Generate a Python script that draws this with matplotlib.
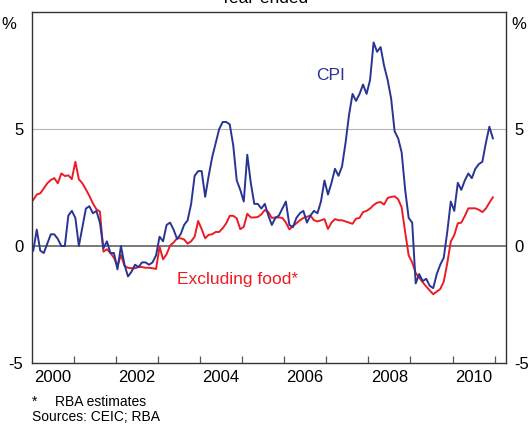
import numpy as np
import matplotlib
matplotlib.use("Agg")
import matplotlib.pyplot as plt

plt.rcParams["font.family"] = ["Liberation Sans", "DejaVu Sans"]

# Year-ended inflation, monthly Jan 2000 .. Dec 2010 (%)
cpi = [
    -0.2, 0.7, -0.2, -0.3, 0.1, 0.5, 0.5, 0.3, 0.0, 0.0, 1.3, 1.5,      # 2000
    1.2, 0.0, 0.8, 1.6, 1.7, 1.4, 1.5, 1.0, -0.1, 0.2, -0.3, -0.3,      # 2001
    -1.0, 0.0, -0.8, -1.3, -1.1, -0.8, -0.9, -0.7, -0.7, -0.8, -0.7, -0.4,  # 2002
    0.4, 0.2, 0.9, 1.0, 0.7, 0.3, 0.5, 0.9, 1.1, 1.8, 3.0, 3.2,         # 2003
    3.2, 2.1, 3.0, 3.8, 4.4, 5.0, 5.3, 5.3, 5.2, 4.3, 2.8, 2.4,         # 2004
    1.9, 3.9, 2.7, 1.8, 1.8, 1.6, 1.8, 1.3, 0.9, 1.2, 1.3, 1.6,         # 2005
    1.9, 0.9, 0.8, 1.2, 1.4, 1.5, 1.0, 1.3, 1.5, 1.4, 1.9, 2.8,         # 2006
    2.2, 2.7, 3.3, 3.0, 3.4, 4.4, 5.6, 6.5, 6.2, 6.5, 6.9, 6.5,         # 2007
    7.1, 8.7, 8.3, 8.5, 7.7, 7.1, 6.3, 4.9, 4.6, 4.0, 2.4, 1.2,         # 2008
    1.0, -1.6, -1.2, -1.5, -1.4, -1.7, -1.8, -1.2, -0.8, -0.5, 0.6, 1.9,  # 2009
    1.5, 2.7, 2.4, 2.8, 3.1, 2.9, 3.3, 3.5, 3.6, 4.4, 5.1, 4.6,         # 2010
]
ex_food = [
    1.97, 2.2, 2.25, 2.46, 2.68, 2.82, 2.9, 2.68, 3.1, 2.99, 3.02, 2.86,
    3.6, 2.85, 2.68, 2.42, 2.14, 1.82, 1.57, 1.47, -0.24, -0.14, -0.3, -0.5,
    -0.85, -0.38, -0.85, -0.93, -0.95, -0.95, -0.9, -0.9, -0.93, -0.93, -0.95, -0.98,
    -0.03, -0.57, -0.35, 0.02, 0.15, 0.33, 0.33, 0.28, 0.1, 0.2, 0.4, 1.07,
    0.72, 0.33, 0.48, 0.5, 0.6, 0.6, 0.76, 0.97, 1.29, 1.29, 1.18, 0.72,
    0.82, 1.38, 1.22, 1.22, 1.24, 1.35, 1.54, 1.45, 1.2, 1.22, 1.22, 1.2,
    1.0, 0.71, 0.85, 0.97, 1.1, 1.2, 1.25, 1.3, 1.1, 1.05, 1.1, 1.15,
    0.73, 1.0, 1.15, 1.1, 1.1, 1.05, 1.0, 0.95, 1.17, 1.2, 1.45, 1.5,
    1.6, 1.75, 1.85, 1.88, 1.77, 2.05, 2.1, 2.12, 2.0, 1.65, 0.6, -0.4,
    -0.7, -1.15, -1.35, -1.55, -1.73, -1.9, -2.06, -1.95, -1.84, -1.52, -0.74, 0.19,
    0.47, 0.97, 1.0, 1.28, 1.61, 1.61, 1.61, 1.55, 1.45, 1.6, 1.85, 2.08,
]
start_year = 2000
year_labels = ["2000", "2002", "2004", "2006", "2008", "2010"]
y_ticks = [-5, 0, 5]

BLUE = "#283593"
RED = "#ed1c24"

# mid-month positions
t = start_year + (np.arange(len(cpi)) + 0.5) / 12.0

W, H = 528, 424
fig = plt.figure(figsize=(W / 100, H / 100), dpi=100)
ax = fig.add_axes([31.5 / W, 1 - 363 / H, (506 - 31.5) / W, (363 - 12) / H])

ax.axhline(5, color="#b4b4b4", lw=0.8, zorder=1)
ax.axhline(0, color="#555555", lw=1.1, zorder=1)
ax.plot(t, cpi, color=BLUE, lw=1.4, zorder=3)
ax.plot(t, ex_food, color=RED, lw=1.4, zorder=2)

ax.set_xlim(2000, 2011.27)
ax.set_ylim(-5, 10)

# year boundary ticks (inward), labels centred on every second year
ax.set_xticks(np.arange(2001, 2012))
ax.set_xticklabels([])
ax.set_xticks([int(y) + 0.5 for y in year_labels], minor=True)
ax.set_xticklabels(year_labels, minor=True)
ax.tick_params(axis="x", which="major", direction="in", length=5, width=0.9, color="#555555")
ax.tick_params(axis="x", which="minor", length=0, pad=5, labelsize=12)

ax.set_yticks(y_ticks)
ax.set_yticklabels([str(v) for v in y_ticks])
ax.tick_params(axis="y", length=0, pad=6, labelsize=12, labelright=True)

for s in ax.spines.values():
    s.set_color("#333333")
    s.set_linewidth(1.0)

ax.text(-0.033, 0.965, "%", transform=ax.transAxes, ha="right", va="center", fontsize=12)
ax.text(1.012, 0.965, "%", transform=ax.transAxes, ha="left", va="center", fontsize=12)

ax.text(2007.1, 7.3, "CPI", color=BLUE, fontsize=12.5, ha="center", va="center")
ax.text(2004.9, -1.45, "Excluding food*", color=RED, fontsize=12.5, ha="center", va="center")

fig.text(0.5, 1 - 3 / H, "Year-ended", ha="center", va="baseline", fontsize=12.5)
fig.text(32 / W, 1 - 402 / H, "*", ha="left", va="center", fontsize=10)
fig.text(55 / W, 1 - 402 / H, "RBA estimates", ha="left", va="center", fontsize=10)
fig.text(32 / W, 1 - 417 / H, "Sources: CEIC; RBA", ha="left", va="center", fontsize=10)

fig.savefig("out.png", dpi=100)
plt.close(fig)
